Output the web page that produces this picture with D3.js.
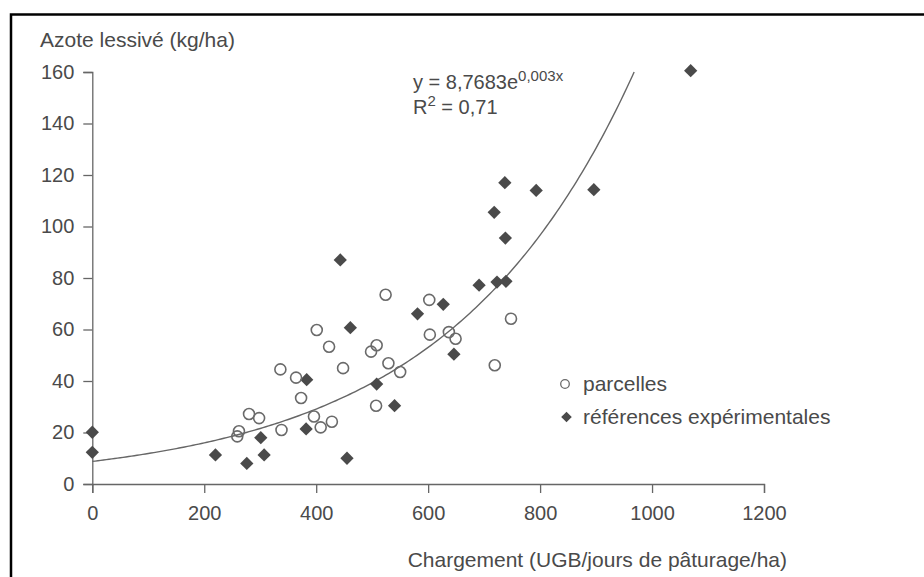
<!DOCTYPE html>
<html>
<head>
<meta charset="UTF-8">
<title>Azote lessivé vs chargement</title>
<script src="https://d3js.org/d3.v7.min.js"></script>
<style>
  body { margin: 0; background: #fff; }
  svg text { font-family: "Liberation Sans", Arial, sans-serif; fill: #4a4a4a; }
</style>
</head>
<body>
<div id="chart"></div>
<script>
// parcelles (open circles): [chargement, azote]
var parcelles = [
  [262, 20.5], [259, 18.5], [280, 27.2], [298, 25.6], [336, 44.5], [338, 21],
  [364, 41.3], [373, 33.4], [396, 26.2], [408, 22], [401, 59.8], [423, 53.3],
  [428, 24.2], [448, 45], [524, 73.5], [498, 51.4], [508, 53.9], [529, 46.9],
  [550, 43.5], [507, 30.4], [602, 71.5], [603, 58], [637, 59], [649, 56.4],
  [748, 64.2], [719, 46.1]
];
// références expérimentales (filled diamonds)
var references = [
  [0, 20.1], [0, 12.3], [220, 11.3], [276, 8], [301, 18], [307, 11.3],
  [383, 40.5], [382, 21.4], [443, 87], [461, 60.7], [455, 10], [508, 38.8],
  [540, 30.4], [581, 66.1], [627, 69.8], [646, 50.4], [691, 77.2], [723, 78.4],
  [739, 78.7], [738, 95.5], [718, 105.5], [737, 117], [793, 114], [896, 114.3],
  [1069, 160.5]
];
var xTicks = [0, 200, 400, 600, 800, 1000, 1200];
var yTicks = [0, 20, 40, 60, 80, 100, 120, 140, 160];
// fitted trend: y = a * e^(b x)
var fitA = 8.7683, fitB = 0.003;
var legendLabels = ["parcelles", "références expérimentales"];

var W = 924, H = 577;
var svg = d3.select("#chart").append("svg").attr("width", W).attr("height", H);

//frame (left + top edges of the scanned box)
svg.append("path")
  .attr("d", "M11," + H + "V14.5H" + W)
  .attr("fill", "none").attr("stroke", "#000").attr("stroke-width", 2.5);

var x = d3.scaleLinear().domain([0, 1200]).range([92.3, 764]);
var y = d3.scaleLinear().domain([0, 160]).range([484, 72]);

svg.append("g").attr("transform", "translate(0," + y(0) + ")")
  .call(d3.axisBottom(x).tickValues(xTicks).tickFormat(d3.format("d"))
    .tickSize(9).tickSizeOuter(9).tickPadding(13));
svg.append("g").attr("transform", "translate(" + x(0) + ",0)")
  .call(d3.axisLeft(y).tickValues(yTicks).tickFormat(d3.format("d"))
    .tickSize(9).tickSizeOuter(9).tickPadding(9));
svg.selectAll(".domain, .tick line").attr("stroke", "#666").attr("stroke-width", 1.3);
svg.selectAll(".tick text").style("font-size", "20px").style("font-family", "Liberation Sans, Arial, sans-serif").attr("fill", "#4a4a4a");

//axis titles
svg.append("text").attr("x", 40).attr("y", 47).style("font-size", "21px").text("Azote lessivé (kg/ha)");
svg.append("text").attr("x", 787).attr("y", 567).attr("text-anchor", "end").style("font-size", "21px")
  .text("Chargement (UGB/jours de pâturage/ha)");

//trend curve, clipped at top of y range
var xEnd = Math.log(160 / fitA) / fitB;
var curvePts = d3.range(0, xEnd, 5).concat([xEnd]).map(function (v) { return [v, fitA * Math.exp(fitB * v)]; });
svg.append("path").datum(curvePts)
  .attr("d", d3.line().x(function (d) { return x(d[0]); }).y(function (d) { return y(d[1]); }))
  .attr("fill", "none").attr("stroke", "#666").attr("stroke-width", 1.4);

//equation
var eq = svg.append("text").attr("x", 413).attr("y", 89).style("font-size", "20px");
eq.append("tspan").text("y = 8,7683e");
eq.append("tspan").attr("dy", -8).style("font-size", "15px").text("0,003x");
var r2 = svg.append("text").attr("x", 413).attr("y", 114).style("font-size", "20px");
r2.append("tspan").text("R");
r2.append("tspan").attr("dy", -8).style("font-size", "15px").text("2");
r2.append("tspan").attr("dy", 8).text(" = 0,71");

//points
var diamond = d3.symbol().type(d3.symbolSquare).size(88);
svg.append("g").selectAll("path").data(references).enter().append("path")
  .attr("d", diamond)
  .attr("transform", function (d) { return "translate(" + x(d[0]) + "," + y(d[1]) + ") rotate(45)"; })
  .attr("fill", "#4a4a4a");
svg.append("g").selectAll("circle").data(parcelles).enter().append("circle")
  .attr("cx", function (d) { return x(d[0]); })
  .attr("cy", function (d) { return y(d[1]); })
  .attr("r", 5.5)
  .attr("fill", "none").attr("stroke", "#6a6a6a").attr("stroke-width", 1.6);

//legend
svg.append("circle").attr("cx", 565).attr("cy", 384).attr("r", 4.3)
  .attr("fill", "none").attr("stroke", "#6a6a6a").attr("stroke-width", 1.3);
svg.append("path").attr("d", d3.symbol().type(d3.symbolSquare).size(56))
  .attr("transform", "translate(566.5,417) rotate(45)").attr("fill", "#4a4a4a");
svg.selectAll(".legtxt").data(legendLabels).enter().append("text")
  .attr("class", "legtxt")
  .attr("x", 583)
  .attr("y", function (d, i) { return 391 + i * 33; })
  .style("font-size", "21px")
  .text(function (d) { return d; });
</script>
</body>
</html>
